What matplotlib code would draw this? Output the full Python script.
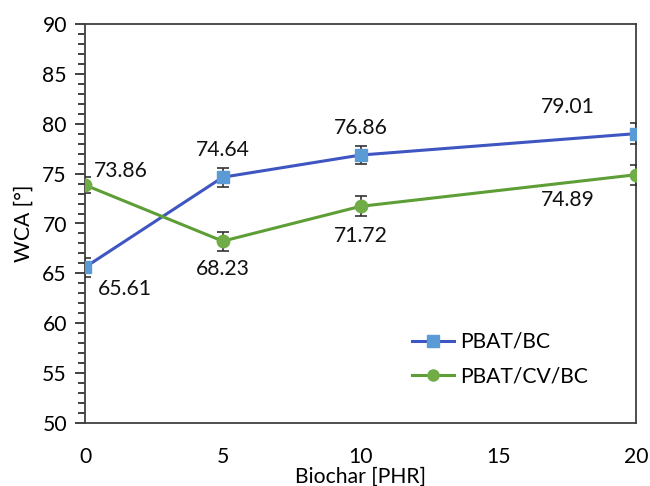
import matplotlib
matplotlib.use("Agg")
import matplotlib.pyplot as plt
from matplotlib.ticker import MultipleLocator
from matplotlib.lines import Line2D

plt.rcParams['font.family'] = ['Lato', 'DejaVu Sans']

biochar = [0, 5, 10, 20]
pbat_bc = [65.61, 74.64, 76.86, 79.01]
pbat_bc_err = [0.95, 0.95, 0.9, 1.05]
pbat_cv_bc = [73.86, 68.23, 71.72, 74.89]
pbat_cv_bc_err = [0.8, 0.95, 1.0, 1.0]
labels_bc = ["65.61", "74.64", "76.86", "79.01"]
labels_cv = ["73.86", "68.23", "71.72", "74.89"]

W, H = 650, 486
fig = plt.figure(figsize=(W/100, H/100), dpi=100)
ax = fig.add_axes([85/W, 1-423/H, (636-85)/W, (423-24)/H])

blue_line = '#3F56C2'
blue_mk = '#5B9BD5'
green_line = '#5E9E36'
green_mk = '#70AD47'
fs = 15.2

ax.errorbar(biochar, pbat_bc, yerr=pbat_bc_err, color=blue_line, lw=2.2,
            marker='s', ms=9, mfc=blue_mk, mec=blue_mk, ecolor='#333333',
            elinewidth=1.2, capsize=4, capthick=1.2, zorder=3)
ax.errorbar(biochar, pbat_cv_bc, yerr=pbat_cv_bc_err, color=green_line, lw=2.2,
            marker='o', ms=9, mfc=green_mk, mec=green_mk, ecolor='#333333',
            elinewidth=1.2, capsize=4, capthick=1.2, zorder=3)

off_bc = [(40, -22), (0, 27), (0, 27), (-68, 27)]
off_cv = [(36, 14), (0, -28), (0, -30), (-68, -25)]
for x, y, t, o in zip(biochar, pbat_bc, labels_bc, off_bc):
    ax.annotate(t, (x, y), xytext=o, textcoords='offset pixels',
                ha='center', va='center', fontsize=fs, color='#111111')
for x, y, t, o in zip(biochar, pbat_cv_bc, labels_cv, off_cv):
    ax.annotate(t, (x, y), xytext=o, textcoords='offset pixels',
                ha='center', va='center', fontsize=fs, color='#111111')

ax.set_xlim(0, 20)
ax.set_ylim(50, 90)
ax.set_xticks([0, 5, 10, 15, 20])
ax.set_yticks(range(50, 91, 5))
ax.yaxis.set_minor_locator(MultipleLocator(1))
ax.tick_params(axis='x', length=0, pad=17, labelsize=fs)
ax.tick_params(axis='y', which='major', direction='out', length=7, width=1.3,
               pad=6, labelsize=fs, color='#333333')
ax.tick_params(axis='y', which='minor', direction='out', length=5, width=1.3,
               color='#333333')
for s in ax.spines.values():
    s.set_color('#404040')
    s.set_linewidth(1.3)

ax.set_xlabel('Biochar [PHR]', fontsize=fs, labelpad=0)
ax.set_ylabel('WCA [°]', fontsize=fs, labelpad=6)

handles = [
    Line2D([], [], color=blue_line, lw=2.2, marker='s', ms=8, mfc=blue_mk, mec=blue_mk),
    Line2D([], [], color=green_line, lw=2.2, marker='o', ms=8, mfc=green_mk, mec=green_mk),
]
leg = ax.legend(handles, ['PBAT/BC', 'PBAT/CV/BC'], loc='upper left',
                bbox_to_anchor=(393/W, 1-313/H),
                bbox_transform=fig.transFigure, frameon=False, fontsize=fs,
                handlelength=2.0, labelspacing=0.7, handletextpad=0.3)

fig.savefig('out.png', dpi=100)
